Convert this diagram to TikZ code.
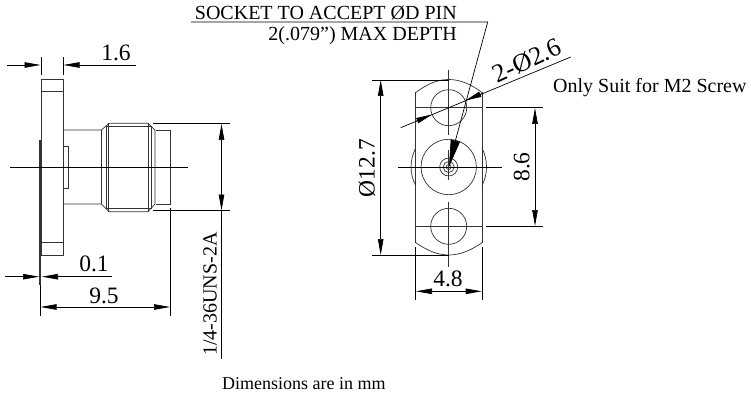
\documentclass[tikz,border=0pt]{standalone}
\usepackage{fontspec}
\setmainfont{Liberation Serif}
\usetikzlibrary{arrows.meta}
\tikzset{
  part/.style={line width=0.7pt, draw=black!80},
  dimline/.style={line width=0.7pt},
  dimtip/.style={-{Triangle[length=16pt,width=5.5pt]}},
  dimtext/.style={inner sep=0pt, font=\fontsize{23.5}{24}\selectfont},
  notetext/.style={inner sep=0pt, font=\fontsize{20}{21}\selectfont},
}
\begin{document}
\begin{tikzpicture}[x=1pt, y=-1pt]
    \useasboundingbox (0, 0) rectangle (751, 398);

    \draw[part] (41, 79.5) rectangle (63, 255);
    \draw[part] (41, 91.5) -- (63, 91.5);
    \draw[part] (41, 242) -- (63, 242);
    \draw[line width=1.5pt, black!80] (40, 140) -- (40, 285);
    \draw[part] (63, 146) -- (68.5, 146) -- (68.5, 188.7) -- (63, 188.7);
    \draw[part] (63, 130) -- (101.5, 130) -- (109, 123.3) -- (148, 123.3) -- (155, 130)
      -- (155, 204) -- (148, 211.7) -- (109, 211.7) -- (101.5, 204) -- (63, 204);
    \draw[part] (101.5, 130) -- (101.5, 204);
    \draw[part] (106, 126.7) -- (106, 208);
    \draw[part] (108.7, 123.3) -- (108.7, 211.7);
    \draw[part] (148, 123.3) -- (148, 211.7);
    \draw[part] (151.5, 126.7) -- (151.5, 208);
    \draw[part] (106, 126.7) -- (151.5, 126.7);
    \draw[part] (106, 208) -- (151.5, 208);
    \draw[part] (155.5, 130) -- (170.5, 130) -- (170.5, 204) -- (155.5, 204);
    \draw[dimline] (10, 167) -- (188, 167);

    \draw[dimline] (41, 57) -- (41, 75);
    \draw[dimline] (63, 57) -- (63, 75);
    \draw[dimline, dimtip] (7, 65) -- (40.5, 65);
    \draw[dimline, dimtip] (136, 65) -- (63.5, 65);
    \node[dimtext] (pitch) at (116, 53) {1.6};

    \draw[dimline, dimtip] (5, 276.7) -- (39, 276.7);
    \draw[dimline, dimtip] (112, 276.7) -- (42, 276.7);
    \node[dimtext] (face) at (94, 264) {0.1};

    \draw[dimline] (40, 285) -- (40, 316);
    \draw[dimline] (170.5, 208) -- (170.5, 316);
    \draw[dimline, dimtip] (104, 307) -- (40.5, 307);
    \draw[dimline, dimtip] (104, 307) -- (170, 307);
    \node[dimtext] (length) at (104, 296) {9.5};

    \draw[dimline] (152.5, 123.5) -- (230, 123.5);
    \draw[dimline] (152.5, 210.7) -- (230, 210.7);
    \draw[dimline, dimtip] (221.5, 167) -- (221.5, 124);
    \draw[dimline, dimtip] (221.5, 167) -- (221.5, 210.5);
    \draw[dimline] (221.5, 210.5) -- (221.5, 359);
    \node[notetext, rotate=90] (thread) at (210, 294) {1/4-36UNS-2A};

    \draw[part] (415.7, 92.5) .. controls (428, 83.5) and (438, 79.5) .. (448.7, 79.5)
      .. controls (459.4, 79.5) and (470, 83.5) .. (482, 92.5);
    \draw[part] (415.7, 242.7) .. controls (428, 251) and (438, 255) .. (448.7, 255)
      .. controls (459.4, 255) and (470, 251) .. (482, 242.7);
    \draw[part] (415.7, 92.5) -- (415.7, 242.7);
    \draw[part] (482, 92.5) -- (482, 242.7);
    \draw[part] (415.7, 107.7) -- (482, 107.7);
    \draw[part] (415.7, 226.3) -- (482, 226.3);
    \draw[part] (448.7, 107.7) circle (18);
    \draw[part] (448.7, 226.3) circle (18);
    \draw[part] (448.7, 167) circle (27.7);
    \draw[part] (448.7, 167) circle (9);
    \draw[part] (448.7, 167) circle (5.5);
    \draw[part] (448.7, 167) circle (2.5);
    \draw[part] (415.7, 148) .. controls (409.5, 160) and (409.5, 174) .. (415.7, 185.5);
    \draw[part] (482, 148) .. controls (488, 160) and (488, 174) .. (482, 185.5);
    \draw[dimline] (398, 167) -- (501.7, 167);
    \draw[part] (448.7, 70) -- (448.7, 135);
    \draw[part] (448.7, 150) -- (448.7, 180);
    \draw[part] (448.7, 201.7) -- (448.7, 266.7);

    \draw[dimline] (191, 22) -- (487.7, 22) -- (455.3, 141);
    \draw[dimline, -{Triangle[length=27pt,width=9.3pt]}] (455.3, 141) -- (449, 167);
    \node[notetext, anchor=east] (socket) at (457, 13) {SOCKET TO ACCEPT ØD PIN};
    \node[notetext, anchor=east] (depth) at (457, 36) {2(.079") MAX DEPTH};

    \draw[dimline] (400.7, 127.7) -- (570.7, 57);
    \draw[dimline, dimtip] (415.7, 121.3) -- (432, 114.5);
    \draw[dimline, dimtip] (482, 93.5) -- (465.5, 100.5);
    \node[dimtext, font=\fontsize{26}{27}\selectfont, rotate=25] (hole) at (527, 60.5) {2-Ø2.6};
    \node[notetext, anchor=west] (screw) at (553, 88) {Only Suit for M2 Screw};

    \draw[dimline] (372, 80) -- (448.7, 80);
    \draw[dimline] (372, 255) -- (448.7, 255);
    \draw[dimline, dimtip] (380.7, 167) -- (380.7, 80);
    \draw[dimline, dimtip] (380.7, 167) -- (380.7, 255);
    \node[dimtext, rotate=90] (flange) at (367, 168) {Ø12.7};

    \draw[dimline] (486, 107.7) -- (543, 107.7);
    \draw[dimline] (486, 226.3) -- (543, 226.3);
    \draw[dimline, dimtip] (535, 167) -- (535, 108);
    \draw[dimline, dimtip] (535, 167) -- (535, 226);
    \node[dimtext, rotate=90] (spacing) at (521.7, 167) {8.6};

    \draw[dimline] (415.7, 247) -- (415.7, 300);
    \draw[dimline] (482, 247) -- (482, 300);
    \draw[dimline, dimtip] (448.7, 291.3) -- (416, 291.3);
    \draw[dimline, dimtip] (448.7, 291.3) -- (481.7, 291.3);
    \node[dimtext] (width) at (448, 279) {4.8};

    \node[notetext, font=\fontsize{18}{19}\selectfont, anchor=west] (units) at (222, 384) {Dimensions are in mm};
  \end{tikzpicture}
\end{document}
